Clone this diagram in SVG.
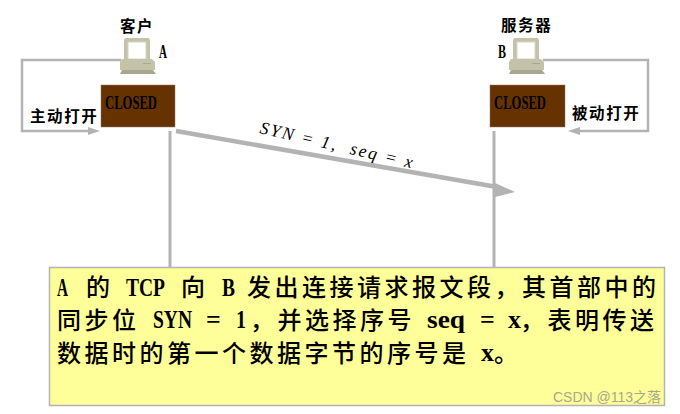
<svg xmlns="http://www.w3.org/2000/svg" width="680" height="414" viewBox="0 0 680 414">
<style>
text{font-family:"Liberation Serif","Noto Sans CJK SC",serif;fill:#000}
.h{font-size:19px;font-weight:700}
.c{font-family:"Noto Sans CJK SC","Liberation Serif",serif;font-size:15.5px;font-weight:700;letter-spacing:1.6px}
.s{font-size:18px;font-weight:700}
.t{font-size:26px;font-weight:700}
.b{font-family:"Noto Sans CJK SC","Liberation Serif",serif;font-size:24px;font-weight:500;letter-spacing:3.5px}
.l{fill:none;stroke:#b3b3b3;stroke-width:2.5}
.v{fill:none;stroke:#b3b3b3;stroke-width:3}
.box{fill:#663300;stroke:#8a7a66;stroke-width:.5}
.pc1{fill:#c4c2a8}.pc2{fill:#a9a78f}.pc3{fill:#fff;stroke:#d8d6c4;stroke-width:1}
</style>
<defs>
<g id="pc">
<path class="pc1" d="M6 0H28Q30 0 30 4V22H4V4Q4 0 6 0z"/>
<rect class="pc3" x="8" y="4" width="18" height="17"/>
<path class="pc1" d="M2 21H32L35 24V32H0V24z"/>
<rect class="pc2" x="23" y="25" width="8" height="1"/>
<path class="pc2" d="M0 36L2 32H33L36 36z"/>
</g>
</defs>
<g id="connectors">
<path class="l" d="M121 60H22V131H90"/>
<path d="M100 131L88 127V135z" fill="#b3b3b3"/>
<path class="l" d="M543 60H648V131H580"/>
<path d="M568 131L580 127V135z" fill="#b3b3b3"/>
<path class="v" d="M170 131V267M494 131V267"/>
<path d="M176 131L497 187" fill="none" stroke="#b3b3b3" stroke-width="4.5"/>
<path d="M495 183L515 192L495 197z" fill="#b3b3b3"/>
<text transform="translate(259 133) rotate(13)" style="font-size:17.5px;font-style:italic;letter-spacing:2px;white-space:pre">SYN = 1,  seq = x</text>
</g>
<g id="client">
<text class="c" x="120" y="32">客户</text>
<use href="#pc" x="120" y="38"/>
<text class="h" x="159" y="58" textLength="8" lengthAdjust="spacingAndGlyphs">A</text>
<rect class="box" x="101" y="85" width="74" height="42"/>
<text class="s" x="105" y="109" textLength="52" lengthAdjust="spacingAndGlyphs">CLOSED</text>
<text class="c" x="30" y="122">主动打开</text>
</g>
<g id="server">
<text class="c" x="501" y="31">服务器</text>
<use href="#pc" x="509" y="38"/>
<text class="h" x="498" y="58" textLength="8" lengthAdjust="spacingAndGlyphs">B</text>
<rect class="box" x="490" y="85" width="75" height="42"/>
<text class="s" x="494" y="109" textLength="52" lengthAdjust="spacingAndGlyphs">CLOSED</text>
<text class="c" x="572" y="119">被动打开</text>
</g>
<g id="note">
<rect x="49.5" y="267.5" width="615" height="138" fill="#ffff99" stroke="#b3b3b3" stroke-width="1.5"/>
<text class="t" x="57" y="296" textLength="11" lengthAdjust="spacingAndGlyphs">A</text><text class="b" x="86" y="296">的</text>
<text class="t" x="126" y="296" textLength="39" lengthAdjust="spacingAndGlyphs">TCP</text><text class="b" x="181" y="296">向</text>
<text class="t" x="222" y="296" textLength="13" lengthAdjust="spacingAndGlyphs">B</text><text class="b" x="247" y="296">发出连接请求报文段，其首部中的</text>
<text class="b" x="57" y="329">同步位</text><text class="t" x="153" y="328" textLength="39" lengthAdjust="spacingAndGlyphs">SYN</text>
<text class="t" x="206" y="328">=</text><text class="t" x="236" y="328" textLength="10" lengthAdjust="spacingAndGlyphs">1</text>
<text class="b" x="250" y="329">，并选择序号</text>
<text class="t" x="427" y="328" textLength="38" lengthAdjust="spacingAndGlyphs">seq</text><text class="t" x="480" y="328">=</text><text class="t" x="508" y="328" textLength="13" lengthAdjust="spacingAndGlyphs">x</text>
<text class="b" x="520" y="329">，表明传送</text>
<text class="b" x="57" y="362">数据时的第一个数据字节的序号是</text>
<text class="t" x="481" y="361" textLength="13" lengthAdjust="spacingAndGlyphs">x</text><text class="b" x="494" y="362">。</text>
<text x="553" y="402" style="font-family:'Liberation Sans','Noto Sans CJK SC',sans-serif;font-size:14px;fill:#a8a88c">CSDN @113之落</text>
</g>
</svg>
